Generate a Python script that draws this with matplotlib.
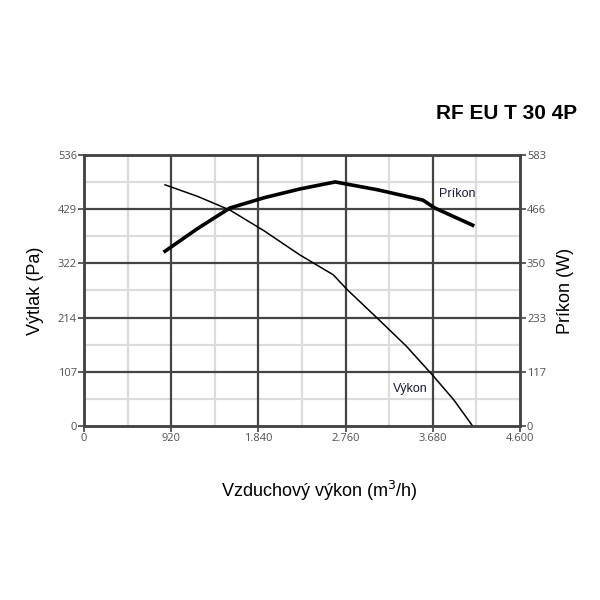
"""Fan curve chart: RF EU T 30 4P."""

import matplotlib
matplotlib.use("Agg")
import matplotlib.pyplot as plt
from matplotlib.ticker import FixedLocator

# pressure curve (left axis, Pa)
flow_vykon = [855, 1200, 1540, 1900, 2280, 2630, 2775, 3090, 3400, 3680, 3900, 4100]
pressure_vykon = [477, 454, 427, 386, 338, 299, 270, 214, 158, 100, 52, 0]

# power curve (right axis, W)
flow_prikon = [855, 1200, 1540, 1900, 2280, 2650, 3100, 3575, 3700, 4100]
power_prikon = [376, 425, 469, 491, 510, 525, 508, 486, 469, 432]

x_ticks = [0, 920, 1840, 2760, 3680, 4600]
x_labels = ["0", "920", "1.840", "2.760", "3.680", "4.600"]
left_ticks = [0, 107, 214, 322, 429, 536]
right_ticks = [0, 117, 233, 350, 466, 583]

title = "RF EU T 30 4P"
grid_dark = "#444444"
grid_light = "#dcdcdc"
tick_font = "Open Sans"
label_font = "Liberation Sans"

fig = plt.figure(figsize=(6, 6), dpi=100)
ax = fig.add_axes([0.14, 0.29, 0.7267, 0.4517])
ax2 = ax.twinx()

ax.set_xlim(0, 4600)
ax.set_ylim(0, 536)
ax2.set_ylim(0, 583)

# grid: light minor lines halfway, dark major lines at ticks
for v in [460, 1380, 2300, 3220, 4140]:
    ax.axvline(v, color=grid_light, lw=1.6, zorder=0)
for v in [53.6, 160.8, 268, 375.2, 482.4]:
    ax.axhline(v, color=grid_light, lw=1.6, zorder=0)
for v in x_ticks[1:-1]:
    ax.axvline(v, color=grid_dark, lw=1.6, zorder=1)
for v in left_ticks[1:-1]:
    ax.axhline(v, color=grid_dark, lw=1.6, zorder=1)

ax.plot(flow_vykon, pressure_vykon, color="black", lw=1.1, zorder=3)
ax2.plot(flow_prikon, power_prikon, color="black", lw=2.6, zorder=3,
         solid_joinstyle="round")

ax.text(3260, 68, "Výkon", fontsize=9, family=label_font, color="#1a1a3a", zorder=4)
ax2.text(3750, 492, "Príkon", fontsize=9, family=label_font, color="#1a1a3a", zorder=4)

ax.xaxis.set_major_locator(FixedLocator(x_ticks))
ax.set_xticklabels(x_labels)
ax.set_yticks(left_ticks)
ax2.set_yticks(right_ticks)

for a in (ax, ax2):
    for s in a.spines.values():
        s.set_color(grid_dark)
        s.set_linewidth(1.8)
    a.tick_params(length=4, width=1.2, color=grid_dark, labelsize=8,
                  labelcolor="#505050", pad=1)
    for lab in a.get_xticklabels() + a.get_yticklabels():
        lab.set_family(tick_font)

ax.set_ylabel("Výtlak (Pa)", fontsize=13, family=label_font, labelpad=10)
ax2.set_ylabel("Príkon (W)", fontsize=13, family=label_font, labelpad=8)
ax.set_xlabel("Vzduchový výkon (m$^3$/h)", fontsize=13, family=label_font)
ax.xaxis.set_label_coords(0.54, -0.195)

fig.text(0.962, 0.81, title, fontsize=15, fontweight="bold", family=label_font,
         ha="right", va="center")

fig.savefig("out.png", dpi=100, facecolor="white")
